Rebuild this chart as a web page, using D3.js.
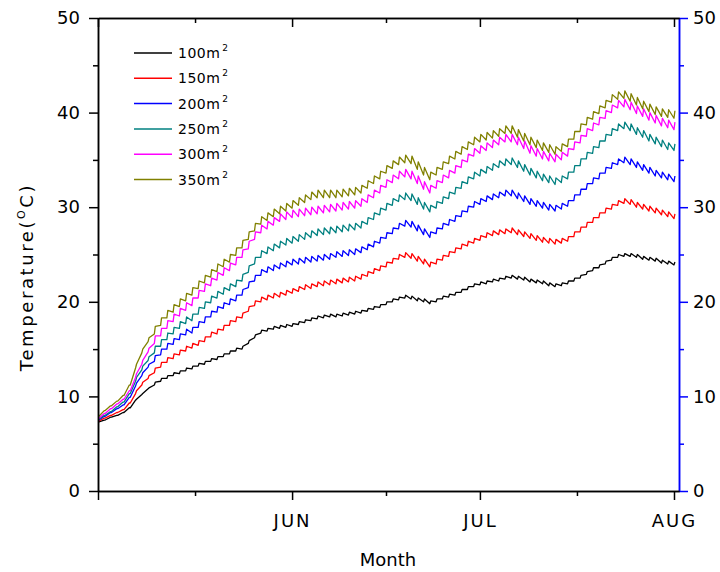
<!DOCTYPE html>
<meta charset="utf-8">
<style>
body { margin: 0; background: #fff; }
text { font-family: "DejaVu Sans", sans-serif; fill: #000; }
.series path { fill: none; stroke-width: 1.3px; stroke-linejoin: round; }
.axis path, .axis line { stroke-width: 1.5px; }
</style>
<svg width="720" height="572"></svg>
<script src="https://cdn.jsdelivr.net/npm/d3@7/dist/d3.min.js"></script>
<script>

var seriesNames = ["100", "150", "200", "250", "300", "350"];
var seriesColors = ["#000000", "#ff0000", "#0000ff", "#008080", "#ff00ff", "#808000"];

// day index from 1 May; month starts and mid-month minor ticks
var monthDays = [0, 31, 61, 92];
var monthLabels = ["", "JUN", "JUL", "AUG"];
var minorDays = [15.5, 46, 76.5];
var yTicks = [0, 10, 20, 30, 40, 50];
var yMinor = [5, 15, 25, 35, 45];

// daily low / high temperature (°C), one value per day
var low100 = [7.3,7.5,7.8,8.0,8.3,8.8,9.6,10.2,10.8,11.2,11.6,11.9,12.2,12.4,12.7,12.9,13.2,13.4,13.7,13.9,14.2,14.5,14.8,15.0,15.6,16.2,16.7,16.9,17.1,17.2,17.3,17.4,17.6,17.8,18.0,18.2,18.3,18.4,18.4,18.5,18.6,18.7,18.8,19.0,19.2,19.4,19.7,20.0,20.2,20.4,20.3,20.1,20.0,19.8,20.0,20.3,20.5,20.7,21.0,21.3,21.6,21.8,21.9,22.1,22.2,22.4,22.5,22.4,22.3,22.1,22.0,21.9,21.7,21.6,21.7,21.9,22.2,22.5,22.9,23.3,23.6,24.0,24.4,24.7,24.8,24.8,24.7,24.5,24.4,24.3,24.1,24.0,23.9];
var high100 = [7.3,7.5,7.8,8.0,8.3,8.8,9.7,10.3,10.9,11.5,11.9,12.2,12.5,12.7,13.0,13.2,13.5,13.7,14.0,14.2,14.5,14.8,15.1,15.3,15.9,16.5,17.0,17.2,17.4,17.5,17.6,17.7,17.9,18.1,18.3,18.5,18.6,18.7,18.7,18.8,18.9,19.0,19.1,19.3,19.5,19.7,20.0,20.3,20.5,20.7,20.6,20.4,20.3,20.1,20.3,20.6,20.8,21.0,21.3,21.6,21.9,22.1,22.2,22.4,22.5,22.7,22.8,22.7,22.6,22.4,22.3,22.2,22.0,21.9,22.0,22.2,22.5,22.8,23.2,23.6,23.9,24.3,24.7,25.0,25.1,25.1,25.0,24.8,24.7,24.6,24.4,24.3,24.2];

var low150 = [7.4,7.7,8.0,8.3,8.6,9.3,10.3,11.2,11.9,12.5,13.1,13.6,14.0,14.4,14.8,15.1,15.4,15.8,16.3,16.6,17.0,17.5,17.9,18.3,19.0,19.6,20.0,20.2,20.4,20.5,20.7,20.9,21.1,21.3,21.4,21.6,21.7,21.8,21.9,22.0,22.1,22.2,22.4,22.7,23.0,23.3,23.7,24.1,24.5,24.7,24.6,24.3,24.0,23.7,24.0,24.4,24.8,25.2,25.6,25.9,26.2,26.5,26.8,27.0,27.1,27.2,27.3,27.1,26.9,26.7,26.5,26.3,26.2,26.1,26.2,26.4,26.9,27.4,27.9,28.4,28.9,29.4,29.8,30.2,30.4,30.3,30.0,29.8,29.6,29.4,29.2,29.0,28.8];
var high150 = [7.4,7.7,8.0,8.3,8.6,9.3,10.6,11.5,12.2,13.0,13.6,14.1,14.5,14.9,15.3,15.6,15.9,16.3,16.8,17.1,17.5,18.0,18.4,18.8,19.5,20.1,20.5,20.7,20.9,21.0,21.2,21.4,21.6,21.8,21.9,22.1,22.2,22.3,22.4,22.5,22.6,22.7,22.9,23.2,23.5,23.8,24.2,24.6,25.0,25.2,25.1,24.8,24.5,24.2,24.5,24.9,25.3,25.7,26.1,26.4,26.7,27.0,27.3,27.5,27.6,27.7,27.8,27.6,27.4,27.2,27.0,26.8,26.7,26.6,26.7,26.9,27.4,27.9,28.4,28.9,29.4,29.9,30.3,30.7,30.9,30.8,30.5,30.3,30.1,29.9,29.7,29.5,29.3];

var low200 = [7.5,7.9,8.3,8.7,9.1,9.9,11.1,12.2,13.1,13.7,14.4,15.0,15.5,16.0,16.5,16.7,17.3,17.8,18.4,18.9,19.3,19.7,20.1,20.7,21.5,22.2,22.8,23.1,23.3,23.5,23.7,23.9,24.0,24.1,24.2,24.3,24.4,24.5,24.7,24.8,24.9,25.0,25.2,25.5,25.8,26.2,26.7,27.2,27.7,28.0,27.9,27.5,27.1,26.8,27.2,27.7,28.1,28.5,29.0,29.5,30.0,30.3,30.6,30.8,31.0,31.2,31.2,30.9,30.6,30.3,30.1,29.9,29.7,29.6,29.8,30.1,30.7,31.3,31.9,32.5,33.0,33.6,34.1,34.5,34.7,34.5,34.2,33.9,33.6,33.3,33.1,32.9,32.7];
var high200 = [7.5,7.9,8.3,8.7,9.1,9.9,11.4,12.5,13.4,14.3,15.0,15.6,16.1,16.6,17.1,17.3,17.9,18.4,19.0,19.5,19.9,20.3,20.7,21.3,22.1,22.8,23.4,23.7,23.9,24.1,24.3,24.5,24.6,24.7,24.8,24.9,25.0,25.1,25.3,25.4,25.5,25.6,25.8,26.1,26.4,26.8,27.3,27.8,28.3,28.6,28.5,28.1,27.7,27.4,27.8,28.3,28.7,29.1,29.6,30.1,30.6,30.9,31.2,31.4,31.6,31.8,31.8,31.5,31.2,30.9,30.7,30.5,30.3,30.2,30.4,30.7,31.3,31.9,32.5,33.1,33.6,34.2,34.7,35.1,35.3,35.1,34.8,34.5,34.2,33.9,33.7,33.5,33.3];

var low250 = [7.6,8.0,8.4,8.9,9.4,10.3,11.6,12.8,13.8,14.6,15.3,16.0,16.6,17.2,17.7,18.0,18.7,19.3,19.9,20.4,20.8,21.2,21.6,22.2,23.1,24.0,24.7,25.1,25.4,25.7,26.0,26.2,26.4,26.6,26.8,27.0,27.1,27.2,27.3,27.4,27.5,27.6,27.8,28.2,28.7,29.2,29.7,30.2,30.6,30.8,30.7,30.3,29.8,29.5,29.9,30.4,30.9,31.4,32.0,32.5,33.0,33.3,33.6,33.9,34.2,34.4,34.5,34.2,33.8,33.4,33.1,32.8,32.6,32.4,32.6,33.0,33.7,34.4,35.1,35.7,36.3,37.0,37.6,38.1,38.3,38.1,37.7,37.4,37.0,36.7,36.4,36.1,36.0];
var high250 = [7.6,8.0,8.4,8.9,9.4,10.3,12.0,13.2,14.2,15.3,16.0,16.7,17.3,17.9,18.4,18.7,19.4,20.0,20.6,21.1,21.5,21.9,22.3,22.9,23.8,24.7,25.4,25.8,26.1,26.4,26.7,26.9,27.1,27.3,27.5,27.7,27.8,27.9,28.0,28.1,28.2,28.3,28.5,28.9,29.4,29.9,30.4,30.9,31.3,31.5,31.4,31.0,30.5,30.2,30.6,31.1,31.6,32.1,32.7,33.2,33.7,34.0,34.3,34.6,34.9,35.1,35.2,34.9,34.5,34.1,33.8,33.5,33.3,33.1,33.3,33.7,34.4,35.1,35.8,36.4,37.0,37.7,38.3,38.8,39.0,38.8,38.4,38.1,37.7,37.4,37.1,36.8,36.7];

var low300 = [7.7,8.2,8.7,9.2,9.7,10.6,12.0,13.4,14.7,15.6,16.4,17.2,17.9,18.5,19.1,19.6,20.4,21.1,21.7,22.3,22.8,23.3,23.9,24.7,25.6,26.6,27.3,27.7,28.1,28.5,28.7,28.9,29.0,29.1,29.2,29.3,29.4,29.5,29.6,29.7,29.8,29.9,30.1,30.5,31.0,31.5,32.1,32.6,33.0,33.2,33.0,32.5,31.9,31.5,32.0,32.6,33.1,33.6,34.2,34.8,35.4,35.7,36.0,36.3,36.6,36.9,36.9,36.6,36.2,35.7,35.4,35.1,34.9,34.8,35.0,35.4,36.1,36.8,37.5,38.1,38.7,39.4,40.0,40.5,40.6,40.3,39.9,39.6,39.2,38.9,38.6,38.4,38.2];
var high300 = [7.7,8.2,8.7,9.2,9.7,10.6,12.4,13.8,15.1,16.4,17.2,18.0,18.7,19.3,19.9,20.4,21.2,21.9,22.5,23.1,23.6,24.1,24.7,25.5,26.4,27.4,28.1,28.5,28.9,29.3,29.5,29.7,29.8,29.9,30.0,30.1,30.2,30.3,30.4,30.5,30.6,30.7,30.9,31.3,31.8,32.3,32.9,33.4,33.8,34.0,33.8,33.3,32.7,32.3,32.8,33.4,33.9,34.4,35.0,35.6,36.2,36.5,36.8,37.1,37.4,37.7,37.7,37.4,37.0,36.5,36.2,35.9,35.7,35.6,35.8,36.2,36.9,37.6,38.3,38.9,39.5,40.2,40.8,41.3,41.4,41.1,40.7,40.4,40.0,39.7,39.4,39.2,39.0];

var low350 = [7.9,8.5,9.0,9.5,10.1,11.2,13.0,14.6,15.8,16.6,17.5,18.3,18.9,19.5,20.1,20.7,21.4,22.0,22.6,23.2,23.7,24.2,24.9,25.7,26.6,27.5,28.2,28.6,29.0,29.3,29.6,29.9,30.2,30.5,30.8,31.0,31.0,31.0,31.0,31.1,31.2,31.3,31.5,32.0,32.5,33.0,33.6,34.1,34.5,34.7,34.6,34.0,33.4,32.9,33.4,34.0,34.6,35.1,35.6,36.1,36.6,36.9,37.1,37.3,37.5,37.8,37.8,37.4,37.0,36.6,36.3,36.0,35.8,35.6,35.9,36.4,37.2,38.0,38.7,39.3,39.9,40.5,41.1,41.4,41.5,41.2,40.8,40.4,40.1,39.8,39.6,39.5,39.4];
var high350 = [7.9,8.5,9.0,9.5,10.1,11.2,13.4,15.0,16.2,17.4,18.3,19.1,19.7,20.3,20.9,21.5,22.2,22.8,23.4,24.0,24.5,25.0,25.7,26.5,27.4,28.3,29.0,29.4,29.8,30.1,30.4,30.7,31.0,31.3,31.6,31.8,31.8,31.8,31.8,31.9,32.0,32.1,32.3,32.8,33.3,33.8,34.4,34.9,35.3,35.5,35.4,34.8,34.2,33.7,34.2,34.8,35.4,35.9,36.4,36.9,37.4,37.7,37.9,38.1,38.3,38.6,38.6,38.2,37.8,37.4,37.1,36.8,36.6,36.4,36.7,37.2,38.0,38.8,39.5,40.1,40.7,41.3,41.9,42.2,42.3,42.0,41.6,41.2,40.9,40.6,40.4,40.3,40.2];

var lows = [low100, low150, low200, low250, low300, low350];
var highs = [high100, high150, high200, high250, high300, high350];

var svg = d3.select("svg");
var plotLeft = 98, plotRight = 679, plotTop = 18, plotBottom = 491;

var x = d3.scaleLinear().domain([0, 92.8]).range([plotLeft, plotRight]);
var y = d3.scaleLinear().domain([0, 50]).range([plotBottom, plotTop]);

// series: the day's low, then the sharp rise to its high
var line = d3.line()
    .x(function (d) { return x(d[0]); })
    .y(function (d) { return y(d[1]); });

var g = svg.append("g").attr("class", "series");
lows.forEach(function (lo, k) {
    var pts = [];
    lo.forEach(function (v, d) {
        pts.push([d, v]);
        pts.push([d + 0.15, highs[k][d]]);
    });
    g.append("path")
        .attr("d", line(pts))
        .attr("stroke", seriesColors[k]);
});

// axes
function styleAxis(sel, color) {
    sel.attr("class", "axis");
    sel.selectAll("path").attr("stroke", color);
    sel.selectAll("line").attr("stroke", color);
    sel.selectAll("text")
        .attr("fill", "#000")
        .style("font-family", "DejaVu Sans, sans-serif");
}

var gl = svg.append("g").attr("transform", "translate(" + plotLeft + ",0)")
    .call(d3.axisLeft(y).tickValues(yTicks).tickSize(9).tickSizeOuter(0).tickPadding(9));
gl.selectAll("text").style("font-size", "18px");
styleAxis(gl, "#000");
var glm = svg.append("g").attr("transform", "translate(" + plotLeft + ",0)")
    .call(d3.axisLeft(y).tickValues(yMinor).tickSize(5).tickSizeOuter(0).tickFormat(""));
styleAxis(glm, "#000");

var gr = svg.append("g").attr("transform", "translate(" + plotRight + ",0)")
    .call(d3.axisRight(y).tickValues(yTicks).tickSize(9).tickSizeOuter(0).tickPadding(5));
gr.selectAll("text").style("font-size", "18px");
styleAxis(gr, "#0000ff");
var grm = svg.append("g").attr("transform", "translate(" + plotRight + ",0)")
    .call(d3.axisRight(y).tickValues(yMinor).tickSize(5).tickSizeOuter(0).tickFormat(""));
styleAxis(grm, "#0000ff");

var gb = svg.append("g").attr("transform", "translate(0," + plotBottom + ")")
    .call(d3.axisBottom(x).tickValues(monthDays).tickSize(9).tickSizeOuter(0).tickPadding(14)
        .tickFormat(function (d, i) { return monthLabels[i]; }));
gb.selectAll("text").style("font-size", "18px").style("letter-spacing", "2px");
styleAxis(gb, "#000");
var gbm = svg.append("g").attr("transform", "translate(0," + plotBottom + ")")
    .call(d3.axisBottom(x).tickValues(minorDays).tickSize(5).tickSizeOuter(0).tickFormat(""));
styleAxis(gbm, "#000");

// top frame with inward ticks
var gt = svg.append("g").attr("transform", "translate(0," + plotTop + ")")
    .call(d3.axisBottom(x).tickValues(monthDays).tickSize(9).tickSizeOuter(0).tickFormat(""));
styleAxis(gt, "#000");
var gtm = svg.append("g").attr("transform", "translate(0," + plotTop + ")")
    .call(d3.axisBottom(x).tickValues(minorDays).tickSize(5).tickSizeOuter(0).tickFormat(""));
styleAxis(gtm, "#000");

// axis titles
var yl = svg.append("text")
    .attr("transform", "translate(33,277) rotate(-90)")
    .attr("text-anchor", "middle")
    .style("font-size", "18px")
    .style("letter-spacing", "2.6px");
yl.append("tspan").text("Temperature(");
yl.append("tspan").attr("dy", -8).style("font-size", "11px").text("O");
yl.append("tspan").attr("dy", 8).text("C)");

svg.append("text")
    .attr("x", 388).attr("y", 566)
    .attr("text-anchor", "middle")
    .style("font-size", "18px")
    .text("Month");

// legend
var leg = svg.append("g");
seriesNames.forEach(function (name, i) {
    var ly = 53 + i * 25.3;
    leg.append("line")
        .attr("x1", 134).attr("x2", 172)
        .attr("y1", ly).attr("y2", ly)
        .attr("stroke", seriesColors[i])
        .attr("stroke-width", 1.5);
    var t = leg.append("text")
        .attr("x", 178).attr("y", ly + 5)
        .style("font-size", "14px")
        .style("letter-spacing", "0.5px");
    t.append("tspan").text(name + "m");
    t.append("tspan").attr("dx", 2).attr("dy", -7).style("font-size", "9px").text("2");
});

</script>
